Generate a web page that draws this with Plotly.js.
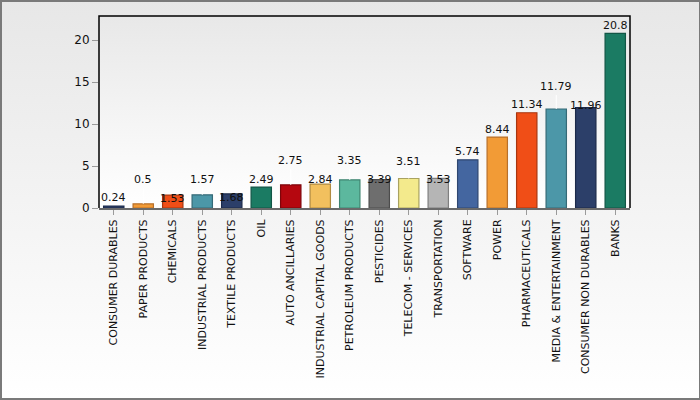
<!DOCTYPE html>
<html>
<head>
<meta charset="utf-8">
<script src="https://cdn.plot.ly/plotly-3.0.1.min.js"></script>
<style>
  html, body { margin: 0; padding: 0; background: #fff; }
  #wrap {
    position: relative; width: 700px; height: 400px;
    background: linear-gradient(#e7e7e7, #ffffff);
  }
  #chart { position: absolute; left: 0; top: 0; width: 700px; height: 400px; }
  #frame {
    position: absolute; left: 0; top: 0; width: 700px; height: 400px;
    box-sizing: border-box; border: 2px solid #7a7a7a; border-right-width: 1px;
    pointer-events: none;
  }
</style>
</head>
<body>
<div id="wrap">
  <div id="chart"></div>
  <div id="frame"></div>
</div>
<script>
// sectors and their weights (%)
var sectors = [
  'CONSUMER DURABLES', 'PAPER PRODUCTS', 'CHEMICALS', 'INDUSTRIAL PRODUCTS',
  'TEXTILE PRODUCTS', 'OIL', 'AUTO ANCILLARIES', 'INDUSTRIAL CAPITAL GOODS',
  'PETROLEUM PRODUCTS', 'PESTICIDES', 'TELECOM - SERVICES', 'TRANSPORTATION',
  'SOFTWARE', 'POWER', 'PHARMACEUTICALS', 'MEDIA & ENTERTAINMENT',
  'CONSUMER NON DURABLES', 'BANKS'
];
var weights = [0.24, 0.5, 1.53, 1.57, 1.68, 2.49, 2.75, 2.84, 3.35, 3.39,
               3.51, 3.53, 5.74, 8.44, 11.34, 11.79, 11.96, 20.8];
var yTicks = [0, 5, 10, 15, 20];

// styling
var barFill = ['#2c3f69', '#f29b36', '#f04e17', '#4c97a8', '#2c3f69', '#1b7b63',
               '#b5070f', '#f2c05e', '#5cb89e', '#6e6e6e', '#f3ea8c', '#b5b5b5',
               '#4466a0', '#f29b36', '#f04e17', '#4c97a8', '#2c3f69', '#1b7b63'];
var barEdge = ['#1c2a4a', '#b8702a', '#a8360f', '#356a77', '#1c2a4a', '#125646',
               '#7e050a', '#b08a40', '#3e8470', '#4c4c4c', '#a9a260', '#7f7f7f',
               '#2f4770', '#b8702a', '#a8360f', '#356a77', '#1c2a4a', '#125646'];
// label offset from bar top (px, negative = up), staggered like the original
var labelLift = [-8, -24, 3, -15, 4, -8, -24, -5, -19, 0, -17, 1, -8, -8, -8, -22, -2, -8];

var mL = 99, mR = 70, mT = 16, mB = 192;
var yMax = 22.86;

var gradSvg = '<svg xmlns="http://www.w3.org/2000/svg" width="10" height="100" preserveAspectRatio="none">' +
  '<defs><linearGradient id="g" x1="0" y1="0" x2="0" y2="1">' +
  '<stop offset="0" stop-color="#e8e8e8"/><stop offset="1" stop-color="#ffffff"/>' +
  '</linearGradient></defs><rect width="10" height="100" fill="url(#g)"/></svg>';

var trace = {
  type: 'bar',
  x: sectors,
  y: weights,
  marker: { color: barFill, line: { color: barEdge, width: 1.2 } },
  hoverinfo: 'none'
};

var notes = sectors.map(function (s, i) {
  return {
    x: s, y: weights[i], xref: 'x', yref: 'y',
    text: String(weights[i]),
    showarrow: true, arrowhead: 0, arrowwidth: 1, arrowcolor: '#ffffff',
    ax: 0, ay: labelLift[i], standoff: 0,
    font: { family: 'DejaVu Sans, Verdana, sans-serif', size: 11, color: '#111111' }
  };
});

var layout = {
  width: 700, height: 400,
  margin: { l: mL, r: mR, t: mT, b: mB, pad: 0 },
  paper_bgcolor: 'rgba(0,0,0,0)',
  plot_bgcolor: 'rgba(0,0,0,0)',
  bargap: 0.31,
  showlegend: false,
  font: { family: 'DejaVu Sans, Verdana, sans-serif', size: 11, color: '#222222' },
  xaxis: {
    type: 'category',
    tickangle: -90,
    ticks: 'outside', ticklen: 5, tickcolor: '#9a9a9a', tickwidth: 1,
    showline: true, linecolor: '#6a6a6a', linewidth: 2,
    showgrid: false, zeroline: false,
    tickfont: { size: 11, color: '#111111' },
    fixedrange: true
  },
  yaxis: {
    range: [0, yMax],
    tickvals: yTicks,
    ticks: 'outside', ticklen: 6, tickcolor: '#9a9a9a', tickwidth: 1,
    showline: false, showgrid: false, zeroline: false,
    tickfont: { size: 12, color: '#111111' },
    fixedrange: true
  },
  images: [{
    source: 'data:image/svg+xml;charset=utf-8,' + encodeURIComponent(gradSvg),
    xref: 'paper', yref: 'paper', x: 0, y: 1, sizex: 1, sizey: 1,
    sizing: 'stretch', xanchor: 'left', yanchor: 'top', layer: 'below'
  }],
  shapes: [{
    type: 'path', xref: 'paper', yref: 'paper',
    path: 'M 0,0 L 0,1 L 1,1 L 1,0',
    line: { color: '#000000', width: 1.5 }
  }],
  annotations: notes
};

Plotly.newPlot('chart', [trace], layout, { displayModeBar: false, staticPlot: true });
</script>
</body>
</html>
